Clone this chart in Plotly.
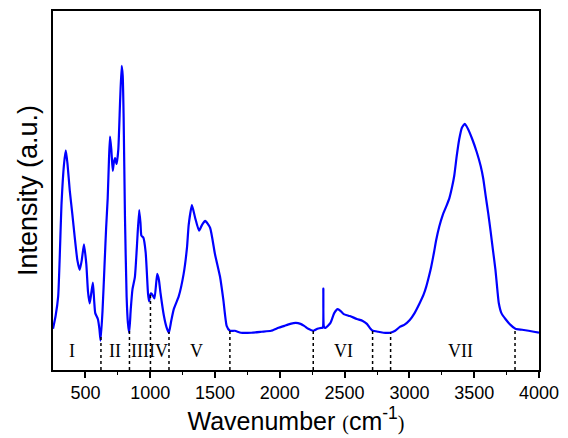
import numpy as np
import plotly.graph_objects as go

wavenumber = [250, 270, 290, 316, 335, 349, 362, 380, 400, 418, 438, 456, 472, 489, 507, 520, 533, 545,
              558, 568, 576, 596, 608, 617, 632, 647, 660, 672, 682, 690, 700, 711, 720, 729, 741, 754,
              768, 780, 788, 795, 805, 818, 828, 838, 850, 863, 882, 897, 915, 925, 932, 947, 965, 983,
              991, 1004, 1016, 1033, 1054, 1067, 1080, 1106, 1125, 1144, 1162, 1182, 1220, 1258, 1284,
              1297, 1322, 1347, 1377, 1400, 1424, 1462, 1500, 1539, 1564, 1590, 1615, 1653, 1700, 1780,
              1860, 1933, 1990, 2035, 2080, 2124, 2160, 2188, 2220, 2259, 2290, 2320, 2331, 2336, 2341,
              2353, 2391, 2420, 2447, 2470, 2493, 2540, 2595, 2640, 2672, 2700, 2718, 2760, 2800, 2850,
              2890, 2926, 2960, 3003, 3040, 3079, 3110, 3130, 3150, 3168, 3190, 3206, 3230, 3257, 3285,
              3308, 3330, 3346, 3365, 3384, 3405, 3428, 3455, 3486, 3520, 3550, 3570, 3588, 3608, 3626,
              3645, 3664, 3680, 3690, 3710, 3741, 3780, 3818, 3870, 3920, 3960, 4000]
intensity = [42, 55, 75, 170, 210, 224, 210, 182, 158, 135, 112, 102, 112, 128, 108, 80, 68, 78,
             89, 70, 58, 52, 42, 30, 60, 105, 145, 175, 215, 238, 225, 203, 212, 216, 210, 225,
             275, 310, 300, 258, 158, 75, 48, 38, 62, 82, 95, 125, 163, 150, 137, 135, 120, 78,
             70, 78, 77, 73, 98, 92, 78, 55, 44, 38, 50, 62, 75, 98, 125,
             148, 168, 155, 142, 148, 152, 145, 118, 95, 72, 45, 40, 40, 38, 38,
             39, 40, 43, 45, 47, 48, 47, 45, 42, 40, 42, 43, 43, 83, 44,
             43, 48, 58, 62, 60, 57, 55, 52, 50, 47, 42, 40, 39, 38, 38,
             40, 44, 46, 51, 58, 68, 77, 85, 95, 105, 120, 132, 146, 158, 167,
             175, 187, 198, 218, 235, 247, 251, 245, 235, 222, 208, 195, 178, 160, 142,
             122, 102, 80, 68, 58, 52, 46, 42, 41, 40, 39, 38]

boundaries = [620, 840, 1002, 1145, 1615, 2258, 2716, 2855, 3815]
region_labels = ["I", "II", "III", "IV", "V", "VI", "VII"]
region_label_x = [400, 730, 922, 1062, 1358, 2490, 3398]

fig = go.Figure()
fig.add_trace(go.Scatter(x=wavenumber, y=intensity, mode="lines",
                         line=dict(color="#0000FF", width=2.2, shape="spline", smoothing=0.5),
                         showlegend=False))

for b in boundaries:
    top = float(np.interp(b, wavenumber, intensity))
    fig.add_shape(type="line", x0=b, x1=b, y0=0, y1=top, xref="x", yref="y",
                  line=dict(color="black", width=1.5, dash="dot"))

for lab, lx in zip(region_labels, region_label_x):
    fig.add_annotation(x=lx, y=19, text=lab, showarrow=False, xref="x", yref="y",
                       font=dict(family="Liberation Serif", size=18, color="black"))

fig.update_layout(
    width=568, height=438,
    margin=dict(l=53, r=24, t=9, b=63),
    paper_bgcolor="white", plot_bgcolor="white",
    font=dict(family="Liberation Sans, Arial", color="black"),
)
fig.update_xaxes(range=[250, 4000], showgrid=False, zeroline=False,
                 showline=True, linecolor="black", linewidth=1.5, mirror=True,
                 ticks="outside", ticklen=6, tickwidth=1.5, tickcolor="black",
                 tickvals=[500, 1000, 1500, 2000, 2500, 3000, 3500, 4000],
                 tickfont=dict(size=18),
                 minor=dict(ticks="outside", ticklen=3, tickwidth=1.2, tickcolor="black",
                            tickvals=[750, 1250, 1750, 2250, 2750, 3250, 3750]),
                 title=dict(text="Wavenumber <span style='font-family:Liberation Serif;font-size:20px'>(</span>cm<sup>-1</sup><span style='font-family:Liberation Serif;font-size:20px'>)</span>",
                            font=dict(size=25), standoff=8))
fig.update_yaxes(range=[0, 366], showgrid=False, zeroline=False,
                 showline=True, linecolor="black", linewidth=1.5, mirror=True,
                 ticks="", showticklabels=False,
                 title=dict(text="Intensity (a.u.)", font=dict(size=27), standoff=6))

fig.write_html("out.html")
